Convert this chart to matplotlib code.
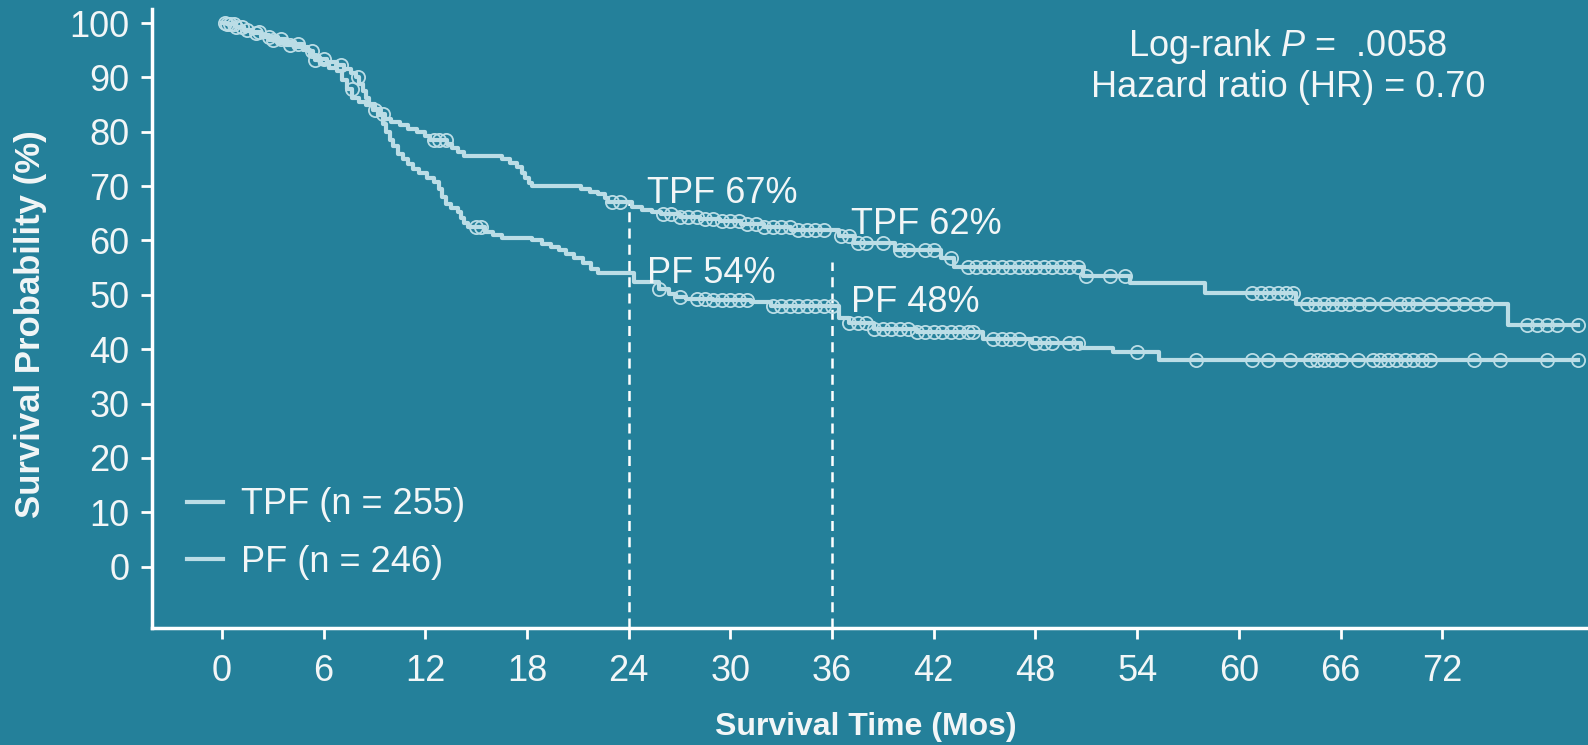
import matplotlib
matplotlib.use("Agg")
import matplotlib.pyplot as plt
import numpy as np

plt.rcParams["font.family"] = ["Liberation Sans", "DejaVu Sans"]
plt.rcParams["mathtext.fontset"] = "custom"
plt.rcParams["mathtext.rm"] = "Liberation Sans"
plt.rcParams["mathtext.it"] = "Liberation Sans:italic"

# Kaplan-Meier steps: time (months) at which survival (%) drops to the given value
tpf_time = [0, 0.3, 0.8, 1.3, 1.8, 2.3, 2.8, 3.3, 3.8, 4.3, 4.8, 5.1, 5.4, 5.7,
            6.2, 6.8, 7.2, 7.6, 7.9, 8.1, 8.3, 8.5, 8.7, 9.0, 9.3, 9.6, 10.0,
            10.5, 11.0, 11.5, 12.0, 12.3, 13.3, 13.6, 13.9, 14.3, 16.5, 17.0,
            17.4, 17.7, 17.9, 18.1, 18.3, 21.2, 21.7, 22.2, 22.6, 22.8, 24.2,
            24.8, 25.4, 25.9, 27.0, 28.2, 29.4, 30.6, 32.0, 33.6, 36.4, 37.3,
            39.7, 42.4, 43.2, 50.8, 53.6, 58.0, 63.4, 75.9]
tpf_surv = [100, 99.8, 99.3, 98.8, 98.3, 97.8, 97.4, 97.0, 96.6, 96.2, 95.6,
            94.8, 94.0, 93.3, 92.8, 92.2, 91.5, 90.8, 90.0, 88.8, 87.5, 86.2,
            85.2, 84.2, 83.3, 82.4, 81.8, 81.2, 80.6, 80.0, 79.3, 78.4, 77.8,
            77.0, 76.3, 75.5, 75.0, 74.3, 73.5, 72.5, 71.5, 70.5, 70.0, 69.5,
            69.0, 68.5, 67.8, 67.0, 66.2, 65.7, 65.2, 64.8, 64.4, 64.0, 63.5,
            63.0, 62.5, 62.0, 60.8, 59.6, 58.2, 56.8, 55.2, 53.5, 52.2, 50.3,
            48.3, 44.5]
tpf_censor = [0.2, 0.5, 0.8, 1.5, 2.2, 2.8, 3.5, 4.5, 5.3, 6.0, 7.0, 8.0, 9.5,
              12.5, 12.8, 13.2, 23.0, 23.5, 26.0, 26.5, 27.0, 27.5, 28.0, 28.5,
              29.0, 29.5, 30.0, 30.5, 31.0, 31.5, 32.0, 32.5, 33.0, 33.5, 34.0,
              34.5, 35.0, 35.5, 36.5, 37.0, 37.5, 38.0, 39.0, 40.0, 40.5, 41.5,
              42.0, 43.0, 44.0, 44.5, 45.0, 45.5, 46.0, 46.5, 47.0, 47.5, 48.0,
              48.5, 49.0, 49.5, 50.0, 50.5, 51.0, 52.4, 53.3, 60.8, 61.3, 61.8,
              62.3, 62.8, 63.2, 64.0, 64.5, 65.0, 65.5, 66.0, 66.5, 67.1, 67.7,
              68.7, 69.5, 70.0, 70.5, 71.3, 72.0, 72.7, 73.3, 74.0, 74.6, 77.0,
              77.6, 78.2, 78.8, 80.0]

pf_time = [0, 0.3, 0.8, 1.3, 1.8, 2.3, 2.8, 3.3, 3.8, 4.3, 4.8, 5.2, 5.5, 5.8,
           6.3, 6.8, 7.1, 7.4, 7.7, 8.1, 8.5, 8.9, 9.2, 9.5, 9.7, 9.9, 10.1,
           10.4, 10.7, 11.0, 11.3, 11.6, 12.1, 12.5, 12.8, 13.0, 13.2, 13.5,
           13.9, 14.1, 14.3, 14.5, 15.5, 16.0, 16.5, 18.3, 18.9, 19.4, 19.9,
           20.3, 20.8, 21.3, 21.8, 22.2, 24.3, 25.8, 26.4, 26.8, 27.4, 29.0,
           31.2, 32.4, 36.4, 37.0, 38.5, 41.0, 44.9, 47.8, 50.7, 52.6, 55.3]
pf_surv = [100, 99.8, 99.2, 98.6, 98.1, 97.5, 96.9, 96.4, 96.0, 95.6, 95.0,
           94.2, 93.2, 92.4, 91.8, 91.2, 89.5, 87.8, 86.2, 85.5, 85.0, 84.0,
           83.0, 81.5, 80.0, 78.5, 77.3, 76.0, 75.0, 74.0, 73.2, 72.5, 71.5,
           70.7, 69.5, 68.0, 66.8, 66.0, 65.2, 64.2, 63.2, 62.4, 61.6, 61.0,
           60.4, 60.0, 59.4, 58.8, 58.2, 57.6, 56.8, 55.8, 54.8, 54.0, 52.4,
           51.0, 50.2, 49.6, 49.2, 49.0, 48.6, 48.0, 45.8, 44.9, 43.8, 43.2,
           41.8, 41.2, 40.3, 39.4, 38.1]
pf_censor = [0.3, 0.7, 1.2, 2.0, 3.0, 4.0, 5.5, 7.65, 9.0, 15.0, 15.3, 25.8,
             27.0, 28.0, 28.5, 29.0, 29.5, 30.0, 30.5, 31.0, 32.5, 33.0, 33.5,
             34.0, 34.5, 35.0, 35.5, 36.0, 37.0, 37.5, 38.0, 38.5, 39.0, 39.5,
             40.0, 40.5, 41.0, 41.5, 42.0, 42.5, 43.0, 43.5, 44.0, 44.3, 45.5,
             46.0, 46.5, 47.0, 48.0, 48.5, 49.0, 50.0, 50.5, 54.0, 57.5, 60.8,
             61.7, 63.0, 64.2, 64.6, 65.0, 65.5, 66.0, 67.0, 67.9, 68.3, 68.8,
             69.3, 69.8, 70.3, 70.8, 71.3, 73.9, 75.4, 78.2, 80.0]

follow_up_end = 80.0
milestones = [24, 36]
milestone_tpf = [67, 62]
milestone_pf = [54, 48]
milestone_line_top = [67, 56]

bg = "#24809A"
curve_color = "#BBDDE6"
text_color = "#F2F6F7"

fig = plt.figure(figsize=(15.88, 7.45), dpi=100, facecolor=bg)
ax = fig.add_axes([0.0957, 0.157, 0.9043, 0.831])
ax.set_facecolor(bg)


def surv_at(times, surv, t):
    idx = np.searchsorted(times, t, side="right") - 1
    return np.asarray(surv)[idx]


for times, surv, cens, label in [
    (tpf_time, tpf_surv, tpf_censor, "TPF (n = 255)"),
    (pf_time, pf_surv, pf_censor, "PF (n = 246)"),
]:
    xs = list(times) + [follow_up_end]
    ys = list(surv) + [surv[-1]]
    ax.step(xs, ys, where="post", color=curve_color, lw=3, label=label,
            zorder=3)
    ax.plot(cens, surv_at(times, surv, cens), "o", ms=9.5, mfc="none",
            mec=curve_color, mew=1.3, zorder=3)

for t, top in zip(milestones, milestone_line_top):
    ax.plot([t, t], [-11.3, top], color="white", lw=1.8, ls=(0, (4, 2.5)),
            zorder=2)

fs = 26
ax.text(milestones[0] + 1.1, milestone_tpf[0] + 1.7,
        f"TPF {milestone_tpf[0]}%", color=text_color, fontsize=fs, va="center")
ax.text(milestones[0] + 1.1, milestone_pf[0] + 0.0,
        f"PF {milestone_pf[0]}%", color=text_color, fontsize=fs, va="center")
ax.text(milestones[1] + 1.1, milestone_tpf[1] + 1.0,
        f"TPF {milestone_tpf[1]}%", color=text_color, fontsize=fs, va="center")
ax.text(milestones[1] + 1.1, milestone_pf[1] + 0.5,
        f"PF {milestone_pf[1]}%", color=text_color, fontsize=fs, va="center")

ax.text(0.791, 0.94, "Log-rank $\\mathit{P}$ =  .0058", transform=ax.transAxes,
        ha="center", va="center", color=text_color, fontsize=fs)
ax.text(0.791, 0.873, "Hazard ratio (HR) = 0.70", transform=ax.transAxes,
        ha="center", va="center", color=text_color, fontsize=fs)

leg = ax.legend(loc="lower left", bbox_to_anchor=(0.0143, 0.055), frameon=False,
                fontsize=fs, handlelength=1.0, handletextpad=0.5,
                labelspacing=0.62, borderaxespad=0)
for txt in leg.get_texts():
    txt.set_color(text_color)

ax.set_xlim(-4.13, 80.6)
ax.set_ylim(-11.3, 102.6)
ax.set_xticks(np.arange(0, 73, 6))
ax.set_yticks(np.arange(0, 101, 10))

for side in ["top", "right"]:
    ax.spines[side].set_visible(False)
for side in ["left", "bottom"]:
    ax.spines[side].set_color("white")
    ax.spines[side].set_linewidth(2.5)

ax.tick_params(axis="both", colors="white", labelcolor=text_color,
               labelsize=fs, length=8, width=2)
ax.tick_params(axis="x", pad=11)
ax.tick_params(axis="y", pad=8)

ax.set_xlabel("Survival Time (Mos)", fontsize=23, fontweight="bold",
              color=text_color)
ax.set_ylabel("Survival Probability (%)", fontsize=25, fontweight="bold",
              color=text_color)
ax.xaxis.set_label_coords(0.497, -0.16)
ax.yaxis.set_label_coords(-0.0845, 0.491)
ax.xaxis.label.set_verticalalignment("center")
ax.yaxis.label.set_verticalalignment("center")

fig.savefig("out.png", dpi=100, facecolor=bg)
